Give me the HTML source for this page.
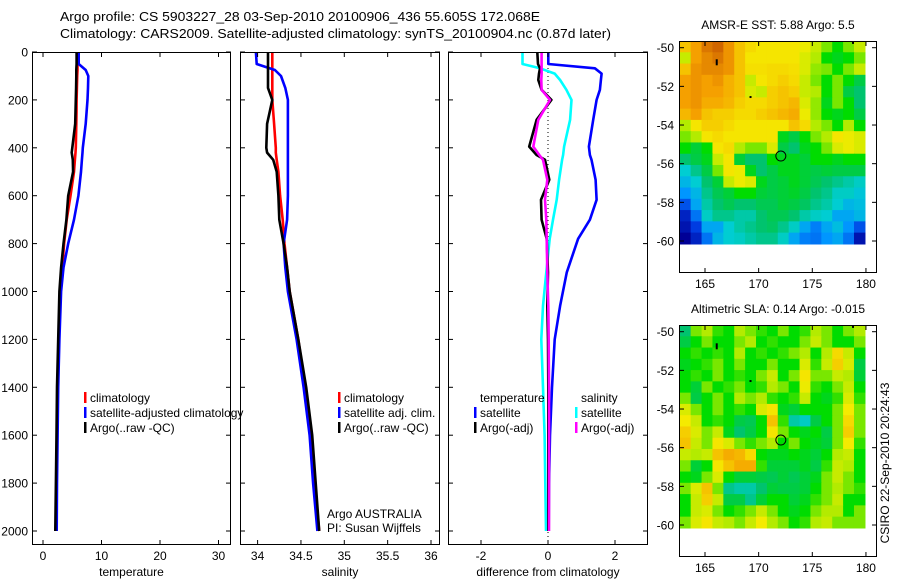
<!DOCTYPE html>
<html><head><meta charset="utf-8">
<style>
html,body{margin:0;padding:0;background:#fff;}
svg{display:block;font-family:"Liberation Sans",sans-serif;}
text{fill:#000;}
</style></head>
<body>
<svg id="fig" width="900" height="580" viewBox="0 0 900 580" xmlns="http://www.w3.org/2000/svg">
<rect width="900" height="580" fill="#fff"/>
<text x="60" y="21" font-size="13" textLength="480" lengthAdjust="spacingAndGlyphs">Argo profile: CS 5903227_28 03-Sep-2010 20100906_436 55.605S 172.068E</text>
<text x="60" y="38" font-size="13" textLength="551" lengthAdjust="spacingAndGlyphs">Climatology: CARS2009. Satellite-adjusted climatology: synTS_20100904.nc (0.87d later)</text>
<g id="layer"></g>
</svg>
<script>
// ---- profile data ----
const depthTS = [0,50,75,100,150,200,250,300,400,420,450,500,600,700,800,900,1000,1200,1400,1600,1800,2000];
const tempClim = [5.9,5.9,5.9,5.85,5.8,5.75,5.72,5.7,5.6,5.55,5.45,5.3,4.7,4.05,3.6,3.3,3.0,2.7,2.5,2.4,2.3,2.2];
const tempSat = [6.1,6.1,7.3,7.75,7.7,7.6,7.45,7.3,6.8,6.75,6.65,6.5,6.05,5.3,4.3,3.5,3.1,2.8,2.6,2.5,2.4,2.35];
const tempArgo = [5.75,5.75,5.7,5.7,5.65,5.6,5.55,5.5,5.0,4.9,5.1,5.15,4.3,4.0,3.5,3.1,2.8,2.6,2.4,2.3,2.2,2.1];
const salClim = [34.17,34.17,34.17,34.17,34.17,34.17,34.18,34.19,34.21,34.21,34.22,34.24,34.26,34.29,34.31,34.34,34.37,34.47,34.55,34.62,34.66,34.71];
const salSat = [33.98,33.99,34.2,34.27,34.32,34.35,34.35,34.35,34.35,34.35,34.35,34.35,34.35,34.34,34.3,34.32,34.35,34.45,34.53,34.6,34.64,34.69];
const salArgo = [34.12,34.12,34.12,34.12,34.12,34.17,34.14,34.11,34.1,34.11,34.18,34.22,34.24,34.25,34.3,34.34,34.37,34.47,34.56,34.63,34.67,34.71];
const depthDiff = [0,50,68,90,117,158,200,283,395,430,450,533,617,700,780,920,1060,1200,1400,1600,1800,2000];
const diffTempSat = [0.01,0.01,1.4,1.6,1.58,1.55,1.45,1.35,1.22,1.25,1.3,1.42,1.45,1.25,0.9,0.56,0.36,0.2,0.12,0.06,0.03,0.02];
const diffSalSat = [-0.76,-0.76,-0.24,0.2,0.36,0.55,0.7,0.66,0.48,0.45,0.42,0.33,0.26,0.15,0.05,-0.05,-0.15,-0.2,-0.15,-0.1,-0.08,-0.06];
const diffTempArgo = [-0.32,-0.3,-0.24,-0.27,-0.29,-0.19,0.1,-0.34,-0.56,-0.34,-0.09,0.04,-0.21,-0.19,-0.04,0.0,-0.02,0.0,0.01,0.01,0.01,0.01];
const diffSalArgo = [-0.19,-0.19,-0.19,-0.19,-0.2,-0.19,0.06,-0.29,-0.44,-0.26,-0.15,-0.02,-0.09,-0.05,-0.04,-0.02,0.01,0.02,0.03,0.03,0.03,0.03];
const depthTicks = [0,200,400,600,800,1000,1200,1400,1600,1800,2000];
const tempTicks = [0,10,20,30];
const salTicks = [34,34.5,35,35.5,36];
const salTickLabels = ["34","34.5","35","35.5","36"];
const diffTicks = [-2,0,2];
// ---- map data ----
const lonTicks = [165,170,175,180];
const latTicks = [-50,-52,-54,-56,-58,-60];
const argoLon = 172.068, argoLat = -55.605;
const sstGrid = [
[0.72,0.78,0.85,0.88,0.8,0.72,0.68,0.66,0.66,0.66,0.66,0.64,0.6,0.55,0.5,0.55,0.6],
[0.6,0.78,0.82,0.85,0.8,0.72,0.66,0.66,0.66,0.66,0.66,0.62,0.58,0.5,0.48,0.5,0.55],
[0.72,0.8,0.82,0.82,0.8,0.72,0.67,0.67,0.68,0.68,0.67,0.62,0.56,0.55,0.5,0.55,0.6],
[0.78,0.8,0.78,0.8,0.75,0.72,0.6,0.66,0.68,0.7,0.68,0.6,0.55,0.5,0.55,0.5,0.45],
[0.78,0.8,0.78,0.78,0.75,0.72,0.62,0.6,0.7,0.72,0.7,0.6,0.58,0.5,0.55,0.45,0.42],
[0.78,0.8,0.76,0.76,0.74,0.7,0.68,0.68,0.7,0.72,0.74,0.62,0.56,0.48,0.55,0.5,0.42],
[0.74,0.78,0.72,0.7,0.7,0.68,0.68,0.7,0.72,0.74,0.76,0.64,0.56,0.5,0.48,0.5,0.45],
[0.58,0.66,0.7,0.7,0.68,0.66,0.66,0.66,0.66,0.66,0.72,0.68,0.58,0.55,0.5,0.58,0.5],
[0.55,0.58,0.66,0.68,0.66,0.66,0.66,0.66,0.66,0.48,0.45,0.5,0.55,0.58,0.66,0.64,0.62],
[0.5,0.46,0.5,0.66,0.68,0.58,0.55,0.55,0.62,0.45,0.42,0.48,0.5,0.55,0.62,0.64,0.62],
[0.42,0.45,0.48,0.6,0.66,0.46,0.42,0.42,0.5,0.48,0.48,0.46,0.5,0.5,0.48,0.5,0.5],
[0.35,0.4,0.45,0.55,0.66,0.64,0.48,0.42,0.45,0.48,0.48,0.46,0.45,0.46,0.45,0.45,0.45],
[0.32,0.35,0.42,0.46,0.6,0.64,0.62,0.48,0.45,0.46,0.48,0.46,0.44,0.42,0.4,0.38,0.36],
[0.28,0.32,0.4,0.44,0.46,0.5,0.5,0.46,0.45,0.46,0.47,0.45,0.42,0.4,0.36,0.36,0.34],
[0.22,0.3,0.38,0.42,0.44,0.42,0.42,0.44,0.44,0.46,0.45,0.43,0.4,0.38,0.35,0.32,0.33],
[0.15,0.25,0.36,0.4,0.4,0.38,0.38,0.42,0.44,0.44,0.42,0.38,0.36,0.35,0.3,0.3,0.32],
[0.12,0.2,0.3,0.3,0.35,0.38,0.4,0.42,0.43,0.4,0.36,0.3,0.26,0.3,0.33,0.28,0.22],
[0.08,0.15,0.25,0.32,0.35,0.36,0.38,0.4,0.4,0.36,0.3,0.26,0.25,0.28,0.3,0.25,0.12]];
const slaGrid = [
[0.42,0.55,0.58,0.52,0.5,0.58,0.55,0.52,0.5,0.55,0.5,0.52,0.58,0.55,0.5,0.55,0.58],
[0.45,0.5,0.55,0.5,0.5,0.55,0.58,0.5,0.52,0.5,0.5,0.55,0.6,0.55,0.5,0.5,0.55],
[0.5,0.52,0.5,0.52,0.5,0.58,0.5,0.52,0.5,0.52,0.55,0.58,0.5,0.58,0.68,0.6,0.5],
[0.48,0.5,0.52,0.55,0.5,0.55,0.5,0.5,0.55,0.5,0.5,0.62,0.52,0.6,0.7,0.62,0.45],
[0.5,0.52,0.5,0.55,0.5,0.52,0.5,0.55,0.6,0.5,0.55,0.66,0.55,0.55,0.6,0.58,0.46],
[0.5,0.46,0.55,0.5,0.52,0.55,0.5,0.52,0.58,0.55,0.5,0.64,0.52,0.5,0.55,0.6,0.5],
[0.55,0.45,0.5,0.55,0.5,0.58,0.55,0.58,0.52,0.5,0.52,0.6,0.5,0.48,0.52,0.62,0.52],
[0.62,0.55,0.5,0.55,0.5,0.52,0.5,0.62,0.66,0.48,0.46,0.5,0.5,0.5,0.55,0.65,0.55],
[0.65,0.6,0.5,0.52,0.5,0.45,0.44,0.5,0.72,0.52,0.38,0.36,0.45,0.5,0.55,0.68,0.55],
[0.7,0.62,0.55,0.6,0.48,0.42,0.45,0.5,0.66,0.55,0.5,0.48,0.5,0.45,0.55,0.7,0.55],
[0.72,0.6,0.55,0.66,0.62,0.55,0.52,0.55,0.58,0.5,0.55,0.5,0.48,0.46,0.55,0.65,0.52],
[0.6,0.58,0.6,0.72,0.76,0.74,0.68,0.5,0.48,0.48,0.5,0.48,0.46,0.5,0.58,0.6,0.5],
[0.55,0.46,0.5,0.66,0.72,0.76,0.76,0.52,0.46,0.46,0.46,0.48,0.45,0.52,0.6,0.58,0.5],
[0.5,0.48,0.55,0.62,0.5,0.46,0.46,0.45,0.44,0.46,0.44,0.46,0.48,0.55,0.6,0.55,0.5],
[0.55,0.62,0.72,0.55,0.4,0.38,0.38,0.42,0.46,0.45,0.45,0.46,0.5,0.55,0.58,0.55,0.52],
[0.5,0.6,0.7,0.6,0.45,0.45,0.4,0.46,0.5,0.5,0.46,0.48,0.52,0.55,0.6,0.5,0.5],
[0.5,0.6,0.62,0.55,0.5,0.52,0.55,0.6,0.55,0.5,0.48,0.5,0.55,0.58,0.58,0.5,0.55],
[0.55,0.62,0.66,0.6,0.58,0.55,0.6,0.65,0.58,0.55,0.5,0.52,0.58,0.6,0.55,0.55,0.55]];

const NS = "http://www.w3.org/2000/svg";
const layer = document.getElementById('layer');
function mk(tag, attrs, parent) {
  const e = document.createElementNS(NS, tag);
  for (const k in attrs) e.setAttribute(k, attrs[k]);
  (parent || layer).appendChild(e);
  return e;
}
function txt(str, attrs, parent) { const e = mk('text', attrs, parent); e.textContent = str; return e; }

const PT = 52, PB = 545;
const yDepth = d => 52 + d * 0.2395;
const panels = [
  {name:'temperature', x0:32, x1:231, f: v => 43 + v * 5.85, ticks: tempTicks, labels: tempTicks.map(String), label:'temperature'},
  {name:'salinity', x0:240, x1:440, f: v => 257.6 + (v - 34) * 86.7, ticks: salTicks, labels: salTickLabels, label:'salinity'},
  {name:'difference', x0:448, x1:648, f: v => 548 + v * 33.5, ticks: diffTicks, labels: diffTicks.map(v => v < 0 ? '-' + Math.abs(v) : String(v)), label:'difference from climatology'}
];

function drawLine(p, depths, vals, color, name) {
  let d = '';
  vals.forEach((v, i) => { d += (i ? 'L' : 'M') + p.f(v).toFixed(1) + ',' + yDepth(depths[i]).toFixed(1); });
  const el = mk('path', {d: d, fill: 'none', stroke: color, 'stroke-width': 2.6, 'stroke-linejoin': 'round'}, p.g);
  
  
}

panels.forEach((p, pi) => {
  const g = mk('g', {});
  
  
  const cp = mk('clipPath', {id: 'cp' + pi}, g);
  mk('rect', {x: p.x0, y: PT, width: p.x1 - p.x0, height: PB - PT}, cp);
  const dg = mk('g', {'clip-path': 'url(#cp' + pi + ')'}, g);
  p.g = dg;
  if (pi === 0) {
    drawLine(p, depthTS, tempClim, '#ff0000', 'climatology-line');
    drawLine(p, depthTS, tempSat, '#0000ff', 'satellite-adjusted-line');
    drawLine(p, depthTS, tempArgo, '#000000', 'argo-line');
  } else if (pi === 1) {
    drawLine(p, depthTS, salClim, '#ff0000', 'climatology-line');
    drawLine(p, depthTS, salSat, '#0000ff', 'satellite-adjusted-line');
    drawLine(p, depthTS, salArgo, '#000000', 'argo-line');
  } else {
    const z = mk('line', {x1: p.f(0), x2: p.f(0), y1: PT, y2: PB, stroke: '#000', 'stroke-width': 1, 'stroke-dasharray': '1,3'}, dg);
    
    
    drawLine(p, depthDiff, diffTempSat, '#0000ff', 'temperature-satellite-diff');
    drawLine(p, depthDiff, diffSalSat, '#00ffff', 'salinity-satellite-diff');
    drawLine(p, depthDiff, diffTempArgo, '#000000', 'temperature-argo-diff');
    drawLine(p, depthDiff, diffSalArgo, '#ff00ff', 'salinity-argo-diff');
  }
  const fr = mk('rect', {x: p.x0 + 0.5, y: PT + 0.5, width: p.x1 - p.x0 - 1, height: PB - PT - 1, fill: 'none', stroke: '#000', 'stroke-width': 1}, g);
  
  
  depthTicks.forEach(d => {
    const y = yDepth(d);
    mk('line', {x1: p.x0, x2: p.x0 + 5, y1: y, y2: y, stroke: '#000'}, g);
    mk('line', {x1: p.x1 - 5, x2: p.x1, y1: y, y2: y, stroke: '#000'}, g);
    if (pi === 0) {
      const t = txt(String(d), {x: 28, y: y + 4.5, 'font-size': 12, 'text-anchor': 'end'}, g);
      
      
    }
  });
  p.ticks.forEach((v, i) => {
    const x = p.f(v);
    mk('line', {x1: x, x2: x, y1: PT, y2: PT + 5, stroke: '#000'}, g);
    mk('line', {x1: x, x2: x, y1: PB - 5, y2: PB, stroke: '#000'}, g);
    const t = txt(p.labels[i], {x: x, y: 560, 'font-size': 12, 'text-anchor': 'middle'}, g);
    
    
  });
  const xl = txt(p.label, {x: (p.x0 + p.x1) / 2, y: 576, 'font-size': 12, 'text-anchor': 'middle'}, g);
  
  
});

function legendEntry(x, y, color, label, name) {
  const g = mk('g', {});
  
  
  if (color) mk('rect', {x: x, y: y - 10, width: 2.5, height: 11, fill: color}, g);
  txt(label, {x: x + 6, y: y, 'font-size': 12}, g);
}
legendEntry(84, 402, '#ff0000', 'climatology', 'legend-climatology');
legendEntry(84, 417, '#0000ff', 'satellite-adjusted climatology', 'legend-satellite-adjusted');
legendEntry(84, 432, '#000000', 'Argo(..raw -QC)', 'legend-argo');
legendEntry(338, 402, '#ff0000', 'climatology', 'legend-climatology-sal');
legendEntry(338, 417, '#0000ff', 'satellite adj. clim.', 'legend-satellite-sal');
legendEntry(338, 432, '#000000', 'Argo(..raw -QC)', 'legend-argo-sal');
legendEntry(474, 402, null, 'temperature', 'legend-temperature-header');
legendEntry(474, 417, '#0000ff', 'satellite', 'legend-temp-satellite');
legendEntry(474, 432, '#000000', 'Argo(-adj)', 'legend-temp-argo');
legendEntry(575, 402, null, 'salinity', 'legend-salinity-header');
legendEntry(575, 417, '#00ffff', 'satellite', 'legend-sal-satellite');
legendEntry(575, 432, '#ff00ff', 'Argo(-adj)', 'legend-sal-argo');
const a1 = txt('Argo AUSTRALIA', {x: 327, y: 518, 'font-size': 12});


const a2 = txt('PI: Susan Wijffels', {x: 327, y: 532, 'font-size': 12});



// ---- maps ----
const cmapStops = [0.08,0.2,0.28,0.35,0.42,0.5,0.57,0.65,0.78,0.9];
const cmapColors = [[0,0,150],[0,60,225],[0,150,255],[0,205,210],[0,195,110],[0,220,0],[170,235,0],[245,235,0],[245,160,0],[200,90,0]];
function cmap(v) {
  if (v <= cmapStops[0]) return 'rgb(' + cmapColors[0].join(',') + ')';
  for (let i = 1; i < cmapStops.length; i++) {
    if (v <= cmapStops[i]) {
      const t = (v - cmapStops[i-1]) / (cmapStops[i] - cmapStops[i-1]);
      const a = cmapColors[i-1], b = cmapColors[i];
      return 'rgb(' + a.map((c, k) => Math.round(c + (b[k] - c) * t)).join(',') + ')';
    }
  }
  return 'rgb(' + cmapColors[cmapColors.length-1].join(',') + ')';
}
function drawMap(top, grid, title, name) {
  const g = mk('g', {});
  
  
  const L = 679, R = 877, B = top + 232;
  const lonX = lon => 705 + (lon - 165) * 10.73;
  const latY = lat => top + 6.7 + (-50 - lat) * 19.33;
  const x0 = lonX(162.65), x1 = lonX(179.9), y0 = top, y1 = latY(-60.15);
  const rows = grid.length, cols = grid[0].length;
  const cw = (x1 - x0) / cols, ch = (y1 - y0) / rows;
  grid.forEach((row, r) => row.forEach((v, ci) => {
    const cell = mk('rect', {x: (x0 + ci * cw).toFixed(2), y: (y0 + r * ch).toFixed(2), width: (cw + 0.6).toFixed(2), height: (ch + 0.6).toFixed(2), fill: cmap(v)}, g);
    
    
  }));
  mk('rect', {x: L + 0.5, y: top + 0.5, width: R - L - 1, height: B - top - 1, fill: 'none', stroke: '#000'}, g);
  lonTicks.forEach(lon => {
    const x = lonX(lon);
    mk('line', {x1: x, x2: x, y1: top, y2: top + 5, stroke: '#000'}, g);
    mk('line', {x1: x, x2: x, y1: B - 5, y2: B, stroke: '#000'}, g);
    const t = txt(String(lon), {x: x, y: B + 15, 'font-size': 12, 'text-anchor': 'middle'}, g);
    
    
  });
  latTicks.forEach(lat => {
    const y = latY(lat);
    mk('line', {x1: L, x2: L + 5, y1: y, y2: y, stroke: '#000'}, g);
    mk('line', {x1: R - 5, x2: R, y1: y, y2: y, stroke: '#000'}, g);
    const t = txt(String(lat), {x: 674, y: y + 4.5, 'font-size': 12, 'text-anchor': 'end'}, g);
    
    
  });
  mk('rect', {x: lonX(166.0), y: latY(-50.6), width: 2, height: 6, fill: '#000'}, g);
  mk('rect', {x: lonX(169.15), y: latY(-52.5), width: 2, height: 2, fill: '#000'}, g);
  mk('rect', {x: lonX(178.7), y: latY(-49.7), width: 2, height: 2, fill: '#000'}, g);
  const c = mk('circle', {cx: lonX(argoLon), cy: latY(argoLat), r: 5, fill: 'none', stroke: '#000', 'stroke-width': 1}, g);
  
  
  const tt = txt(title, {x: 778, y: top - 12, 'font-size': 12, 'text-anchor': 'middle'}, g);
  
  
}
drawMap(41, sstGrid, 'AMSR-E SST: 5.88 Argo: 5.5', 'sst-map');
drawMap(325, slaGrid, 'Altimetric SLA: 0.14 Argo: -0.015', 'sla-map');
const cs = txt('CSIRO 22-Sep-2010 20:24:43', {x: 0, y: 0, 'font-size': 12, 'text-anchor': 'middle', transform: 'translate(889,463) rotate(-90)'});


</script>
</body></html>
